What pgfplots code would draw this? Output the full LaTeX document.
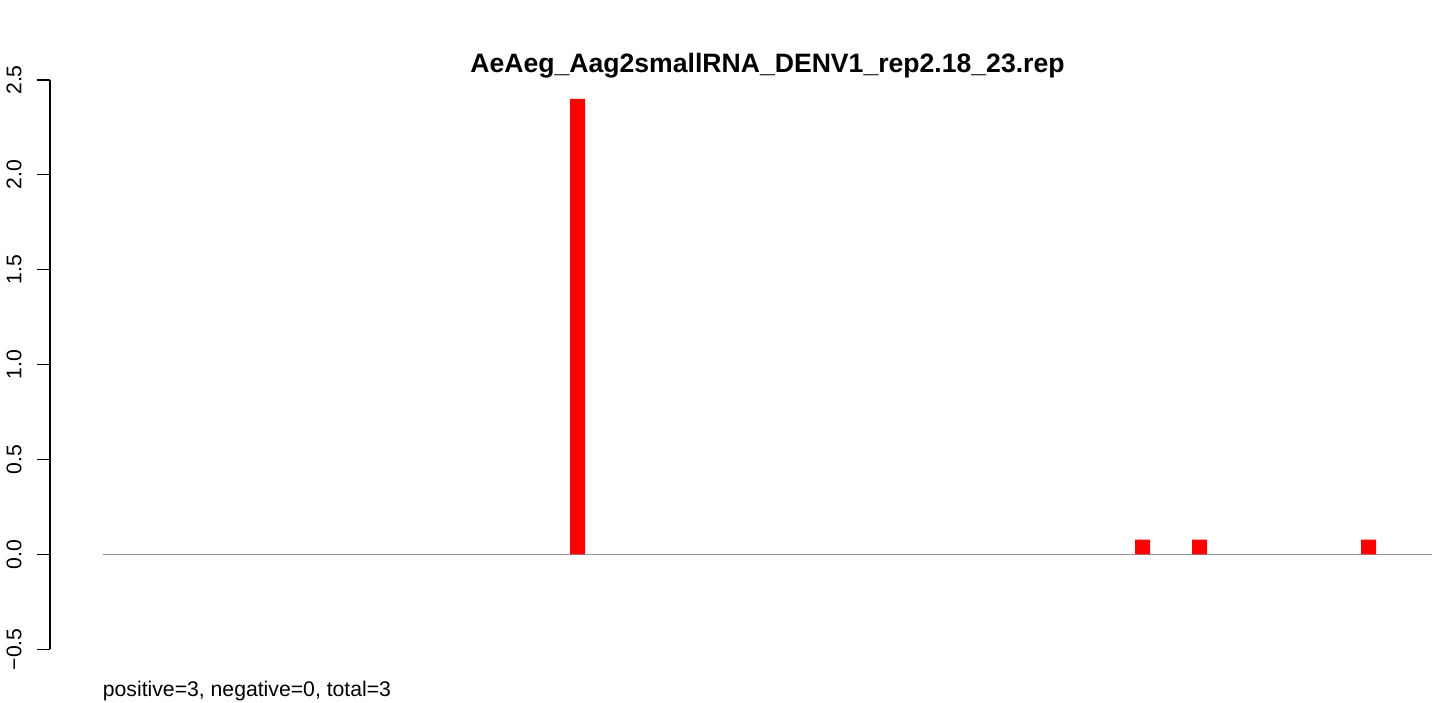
\documentclass[border=0pt]{standalone}
\usepackage{pgfplots}
\pgfplotsset{compat=1.18}
\usepackage{fontspec}
\setmainfont{Liberation Sans}
\begin{document}
\begin{tikzpicture}
\begin{axis}[
  scale only axis,
  width=694.5pt, height=284.65pt,
  xmin=50, xmax=1439,
  ymin=-0.5, ymax=2.5,
  axis x line=none,
  axis y line=left,
  y axis line style={-, line width=0.6pt},
  ytick={-0.5,0,0.5,1,1.5,2,2.5},
  yticklabels={−0.5,0.0,0.5,1.0,1.5,2.0,2.5},
  tick align=outside,
  major tick length=6.5pt,
  ytick style={line width=0.6pt, black},
  yticklabel style={rotate=90, anchor=south, inner sep=0pt, font=\fontsize{10.6}{12}\selectfont},
  yticklabel shift=7.5pt,
  /pgf/number format/assume math mode=true,
  clip=false,
]
\addplot[draw={rgb,255:red,150;green,150;blue,150}, line width=0.75pt, no markers] coordinates {(103,0) (1432,0)};
\addplot[ybar, bar width=7.5pt, fill=red, draw=none, bar shift=0pt] coordinates {
(577.5,2.4) (1142.5,0.078) (1199.5,0.078) (1368.5,0.078)};
\node[anchor=base, font=\fontsize{13.3}{15}\selectfont\bfseries, inner sep=0pt] at (axis cs:767.5,2.5395) {AeAeg\_Aag2smallRNA\_DENV1\_rep2.18\_23.rep};
\node[anchor=base west, font=\fontsize{10.6}{12}\selectfont, inner sep=0pt] at (axis cs:102.5,-0.75) {positive=3, negative=0, total=3};
\path (axis cs:0,-0.783) rectangle (axis cs:1439,2.9215);
\end{axis}
\end{tikzpicture}
\end{document}
